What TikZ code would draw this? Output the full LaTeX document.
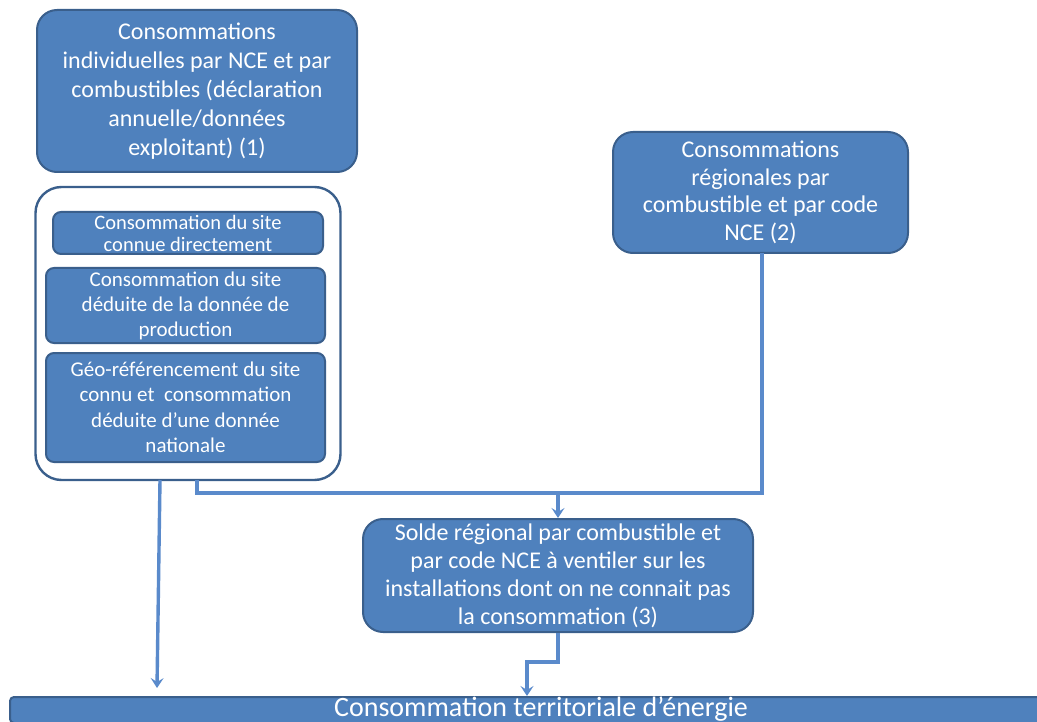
\documentclass[tikz,border=0pt]{standalone}
\usepackage{fontspec}
\setmainfont{Carlito}
\usetikzlibrary{arrows.meta}
\definecolor{boxfill}{HTML}{4F81BD}
\definecolor{boxedge}{HTML}{3A5F8C}
\definecolor{linkcol}{HTML}{5A8ACB}
\begin{document}
\begin{tikzpicture}[x=1pt,y=-1pt,
  bluebox/.style={draw=boxedge,line width=2pt,fill=boxfill,rounded corners=20pt,
    text=white,align=center,inner sep=0pt},
  subbox/.style={draw=boxedge,line width=2pt,fill=boxfill,rounded corners=8pt,
    text=white,align=center,inner sep=0pt},
  link/.style={draw=linkcol,line width=3.4pt},
  arrowlink/.style={link,-{Stealth[length=10pt,width=13pt,inset=4pt]}}]
\useasboundingbox (0,0) rectangle (1037,722);

% source blocks
\node[bluebox,minimum width=320pt,minimum height=162pt,font=\fontsize{24}{29}\selectfont]
  (decl) at (197,91) {Consommations\\individuelles par NCE et par\\combustibles (déclaration\\annuelle/données\\exploitant) (1)};
\node[bluebox,minimum width=295pt,minimum height=121pt,font=\fontsize{24}{27.5}\selectfont]
  (region) at (760.5,192.5) {Consommations\\régionales par\\combustible et par code\\NCE (2)};

% grouping frame with the three site cases
\node[draw=boxedge,line width=2.4pt,fill=white,rounded corners=26pt,
  minimum width=305pt,minimum height=293pt,inner sep=0pt] (frame) at (188,333.5) {};
\node[subbox,minimum width=270pt,minimum height=42pt,font=\fontsize{20.5}{22}\selectfont]
  (known) at (188,233) {Consommation du site\\connue directement};
\node[subbox,minimum width=279pt,minimum height=75pt,font=\fontsize{21}{25}\selectfont]
  (prod) at (185.5,305.5) {Consommation du site\\déduite de la donnée de\\production};
\node[subbox,minimum width=279pt,minimum height=109pt,font=\fontsize{21}{25.5}\selectfont]
  (geo) at (185.5,407.5) {Géo-référencement du site\\connu et\ \ consommation\\déduite d’une donnée\\nationale};

% regional balance
\node[bluebox,minimum width=390pt,minimum height=113pt,font=\fontsize{24}{28}\selectfont]
  (solde) at (558,575.5) {Solde régional par combustible et\\par code NCE à ventiler sur les\\installations dont on ne connait pas\\la consommation (3)};

% result bar
\node[draw=boxedge,line width=2pt,fill=boxfill,rounded corners=4pt,
  minimum width=1040pt,minimum height=26pt,inner sep=0pt] (terr) at (530,710) {};
\node[text=white,font=\fontsize{28}{30}\selectfont,inner sep=0pt,anchor=base] (terrlabel) at (541,716) {Consommation territoriale d’énergie};

% connectors
\coordinate (fa) at (160,480);
\coordinate (fb) at (197,480);
\coordinate (ra) at (762,253);
\coordinate (j) at (558,493);
\coordinate (bend) at (527,662);
\draw[arrowlink] (fa) -- (157,688);
\draw[link] (fb) |- (j) -| (ra);
\draw[arrowlink] (j) -- (solde.north);
\draw[arrowlink] (solde.south) |- (bend) -- (bend |- terr.north);
\end{tikzpicture}
\end{document}
